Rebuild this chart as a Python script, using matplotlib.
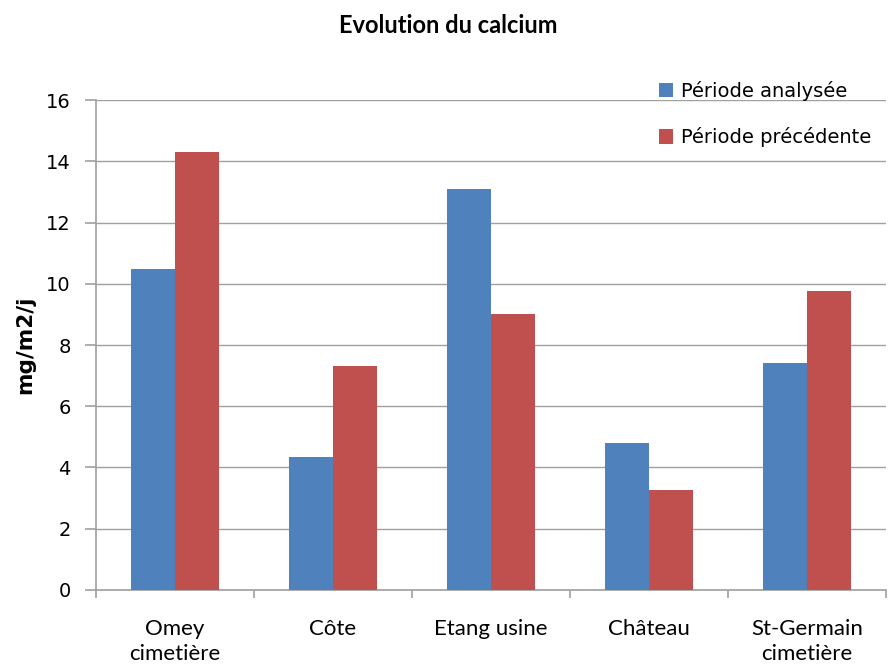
import matplotlib.pyplot as plt
import numpy as np

sites = ['Omey\ncimetière', 'Côte', 'Etang usine', 'Château', 'St-Germain\ncimetière']
periode_analysee = [10.5, 4.35, 13.1, 4.8, 7.4]
periode_precedente = [14.3, 7.3, 9.0, 3.25, 9.75]
series_names = ['Période analysée', 'Période précédente']

blue = '#4F81BD'
red = '#C0504D'
grey = '#A0A0A0'

fig = plt.figure(figsize=(8.96, 6.68), dpi=100)
ax = fig.add_axes([0.107, 0.117, 0.882, 0.733])

x = np.arange(len(sites))
w = 0.28
ax.bar(x - w / 2, periode_analysee, w, color=blue, label=series_names[0], zorder=3)
ax.bar(x + w / 2, periode_precedente, w, color=red, label=series_names[1], zorder=3)

ax.set_xlim(-0.5, len(sites) - 0.5)
ax.set_ylim(0, 16)
ax.set_yticks(range(0, 17, 2))
ax.yaxis.grid(True, color=grey, linewidth=1, zorder=0)

for s in ['top', 'right']:
    ax.spines[s].set_visible(False)
for s in ['left', 'bottom']:
    ax.spines[s].set_color(grey)
    ax.spines[s].set_linewidth(1.2)

ax.set_xticks(x)
ax.set_xticklabels(sites, fontsize=16, family='Lato', linespacing=1.3)
ax.set_xticks(np.arange(-0.5, len(sites), 1), minor=True)
ax.tick_params(axis='x', which='major', length=0, pad=21)
ax.tick_params(axis='x', which='minor', length=6, color=grey, width=1.2)
ax.tick_params(axis='y', length=8, color=grey, width=1.2, labelsize=14, pad=10)

ax.set_ylabel('mg/m2/j', fontsize=15.5, fontweight='bold', labelpad=8)

fig.text(0.5, 0.962, 'Evolution du calcium', ha='center', va='center',
         fontsize=17, fontweight='bold', family='Lato')

leg = ax.legend(loc='upper left', bbox_to_anchor=(0.69, 1.075), frameon=False,
                fontsize=14, handlelength=0.75, handleheight=0.75,
                handletextpad=0.4, labelspacing=1.35)

fig.savefig('out.png', dpi=100)
